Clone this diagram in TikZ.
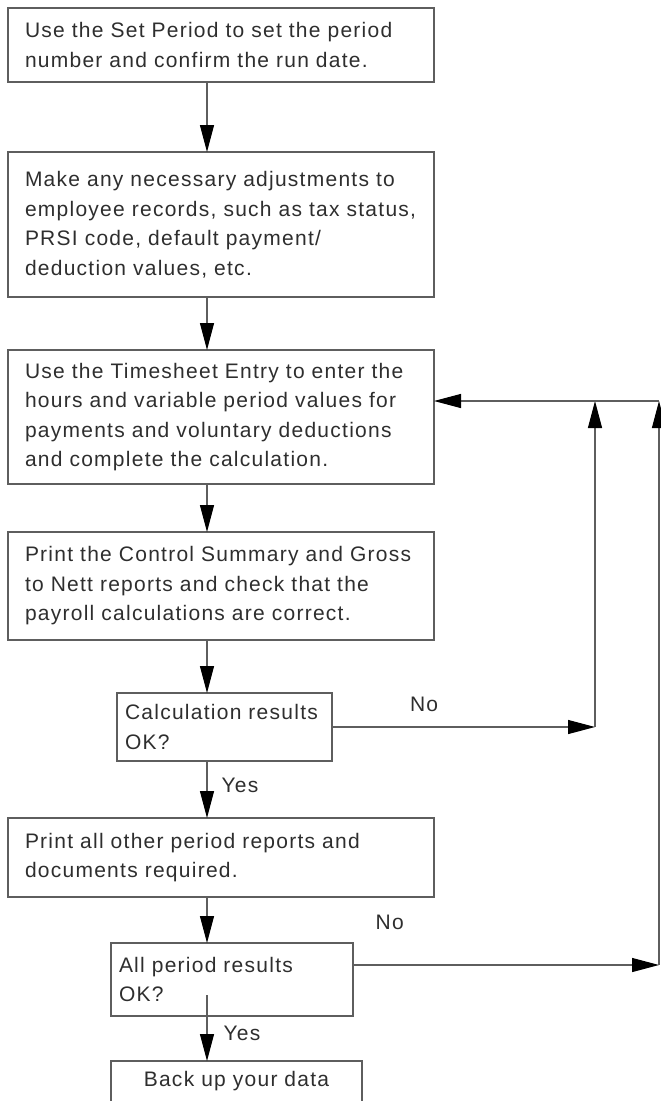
\documentclass[tikz,border=0pt]{standalone}
\usepackage{xcolor}
\usepackage{fontspec}
\setmainfont{Liberation Sans}[LetterSpace=6]
\usepackage{tikz}
\usetikzlibrary{arrows.meta,positioning,calc}

\definecolor{boxgray}{HTML}{5E5E5E}
\definecolor{textgray}{HTML}{2E2E2E}

\begin{document}
\begin{tikzpicture}[
    x=1pt, y=-1pt,
    flowstep/.style={draw=boxgray, line width=1.2pt, outer sep=0pt, anchor=north west, align=left, text width=392pt, inner xsep=17pt, inner ysep=0pt, text=textgray, font=\fontsize{21}{29.5}\selectfont},
    checkstep/.style={flowstep, inner xsep=8pt},
    flowline/.style={draw=boxgray, line width=1.2pt, -{Triangle[length=27pt,width=14pt,color=black]}},
    answer/.style={text=textgray, font=\fontsize{21}{24}\selectfont, inner sep=0pt}
  ]
    \useasboundingbox (0,0) rectangle (661,1101);
    \clip (0,0) rectangle (661,1101);
    \coordinate (spine) at (207,0);
    \coordinate (loopin) at (595,401);
    \coordinate (loopout) at (659,401);

    \node[flowstep, minimum height=74pt] (setperiod) at (8,8) {Use the Set Period to set the period\\number and confirm the run date.};
    \node[flowstep, minimum height=145pt, below=70pt of setperiod.south west, anchor=north west] (adjust) {Make any necessary adjustments to\\employee records, such as tax status,\\PRSI code, default payment/\\deduction values, etc.};
    \node[flowstep, minimum height=134pt, below=53pt of adjust.south west, anchor=north west] (timesheet) {Use the Timesheet Entry to enter the\\hours and variable period values for\\payments and voluntary deductions\\and complete the calculation.};
    \node[flowstep, minimum height=108pt, below=48pt of timesheet.south west, anchor=north west] (checkreports) {Print the Control Summary and Gross\\to Nett reports and check that the\\payroll calculations are correct.};
    \node[checkstep, text width=199pt, minimum height=68pt, below=53pt of checkreports.south west, anchor=north west, xshift=109pt] (calcok) {Calculation results\\OK?};
    \node[flowstep, minimum height=79pt, below=57pt of calcok.south west, anchor=north west, xshift=-109pt] (otherreports) {Print all other period reports and\\documents required.};
    \node[checkstep, text width=226pt, minimum height=73pt, below=46pt of otherreports.south west, anchor=north west, xshift=103pt] (allok) {All period results\\OK?};
    \node[flowstep, align=center, text width=231pt, inner xsep=10pt, inner ysep=10pt, text depth=20pt, below=45pt of allok.south west, anchor=north west] (backup) {Back up your data};

    \draw[flowline] (setperiod.south -| spine) -- (adjust.north -| spine);
    \draw[flowline] (adjust.south -| spine) -- (timesheet.north -| spine);
    \draw[flowline] (timesheet.south -| spine) -- (checkreports.north -| spine);
    \draw[flowline] (checkreports.south -| spine) -- (calcok.north -| spine);
    \draw[flowline] (calcok.south -| spine) -- node[answer, pos=0.42, anchor=west, xshift=14pt]{Yes} (otherreports.north -| spine);
    \draw[flowline] (otherreports.south -| spine) -- (allok.north -| spine);
    \draw[flowline] ($(allok.south -| spine)+(0,-21)$) -- node[answer, pos=0.58, anchor=west, xshift=16pt]{Yes} (backup.north -| spine);

    % No branches back to the timesheet entry
    \coordinate (allokexit) at ($(allok.north east)+(0,22)$);
    \draw[flowline] (calcok.east) -- node[answer, pos=0.35, above=15pt]{No} (calcok.east -| loopin);
    \draw[flowline] (calcok.east -| loopin) -- (loopin);
    \draw[flowline] (allokexit) -- node[answer, pos=0.12, above=35pt]{No} (allokexit -| loopout);
    \draw[flowline] (allokexit -| loopout) -- (loopout);
    \draw[flowline] (loopout) -- (loopout -| timesheet.east);
\end{tikzpicture}
\end{document}
